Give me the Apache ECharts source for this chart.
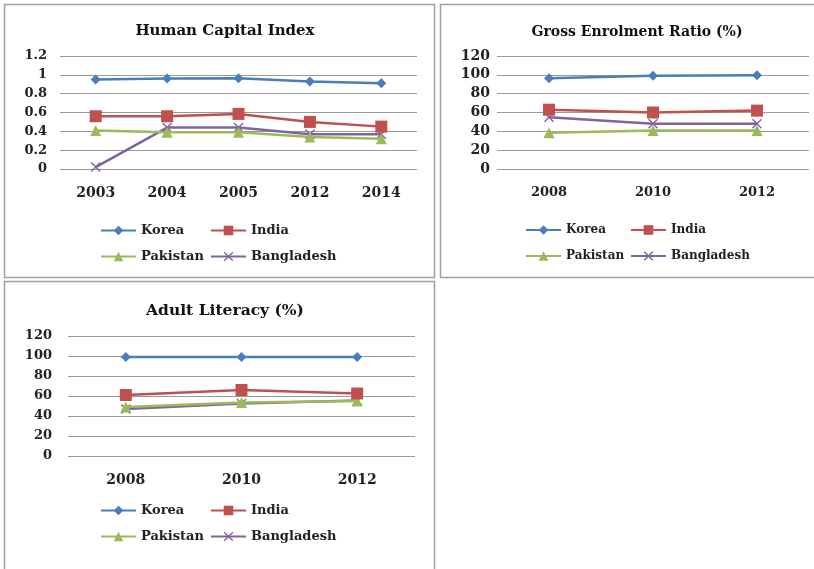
<!DOCTYPE html>
<html>
<head>
<meta charset="utf-8">
<script src="https://cdn.jsdelivr.net/npm/echarts@6/dist/echarts.min.js"></script>
<style>
  html, body { margin: 0; padding: 0; background: #fff; }
  #chart { width: 814px; height: 569px; }
</style>
</head>
<body>
<div id="chart"></div>
<script>
// data
const countries = ['Korea', 'India', 'Pakistan', 'Bangladesh'];

const hciYears = ['2003', '2004', '2005', '2012', '2014'];
const hciKorea = [0.95, 0.96, 0.965, 0.93, 0.91];
const hciIndia = [0.56, 0.56, 0.585, 0.50, 0.45];
const hciPakistan = [0.41, 0.39, 0.39, 0.34, 0.32];
const hciBangladesh = [0.02, 0.44, 0.44, 0.37, 0.37];

const gerYears = ['2008', '2010', '2012'];
const gerKorea = [96.5, 99, 99.5];
const gerIndia = [63, 60, 62];
const gerPakistan = [38.5, 41, 41];
const gerBangladesh = [55, 48, 48];

const litYears = ['2008', '2010', '2012'];
const litKorea = [99, 99, 99];
const litIndia = [61, 66, 62.5];
const litPakistan = [49, 53.5, 55];
const litBangladesh = [47, 52.5, 55.5];

const hciTicks = [0, 0.2, 0.4, 0.6, 0.8, 1, 1.2];
const pctTicks = [0, 20, 40, 60, 80, 100, 120];

var colors = ['#4A7EBB', '#C0504D', '#9BBB59', '#8064A2'];
var symbols = [
    'diamond',
    'rect',
    'triangle',
    'path://M0,1 L1,0 L5,4 L9,0 L10,1 L6,5 L10,9 L9,10 L5,6 L1,10 L0,9 L4,5 Z'
];
var symbolSizes = [10, 12, 11, 10];
var font = 'DejaVu Serif';

var chartDom = document.getElementById('chart');
var myChart = echarts.init(chartDom);

function makeSeries(gridIdx, lists) {
    return lists.map(function(vals, i) {
        return {
            name: countries[i],
            type: 'line',
            xAxisIndex: gridIdx,
            yAxisIndex: gridIdx,
            data: vals,
            symbol: symbols[i],
            symbolSize: symbolSizes[i],
            showAllSymbol: true,
            color: colors[i],
            lineStyle: { width: 2.5, color: colors[i] },
            itemStyle: { color: colors[i] },
            z: 10 - i
        };
    });
}

function makeLegends(x1, x2, y1, y2, size) {
    var pos = [[x1, y1], [x2, y1], [x1, y2], [x2, y2]];
    return countries.map(function(c, i) {
        return {
            data: [c],
            left: pos[i][0],
            top: pos[i][1],
            padding: 0,
            itemWidth: 35,
            itemHeight: 12,
            itemGap: 3,
            textStyle: { fontFamily: font, fontSize: size, fontWeight: 'bold', color: '#222' }
        };
    });
}

function xAxisFor(gridIdx, cats, size) {
    return {
        type: 'category',
        gridIndex: gridIdx,
        data: cats,
        boundaryGap: true,
        axisLine: { show: false },
        axisTick: { show: false },
        axisLabel: { margin: 17, fontFamily: font, fontSize: size, fontWeight: 'bold', color: '#222' }
    };
}

function yAxisFor(gridIdx, ticks, margin, size) {
    return {
        type: 'value',
        gridIndex: gridIdx,
        min: ticks[0],
        max: ticks[ticks.length - 1],
        interval: ticks[1] - ticks[0],
        axisLine: { show: false },
        axisTick: { show: false },
        splitLine: { lineStyle: { color: '#9a9a9a', width: 1 } },
        axisLabel: { margin: margin, fontFamily: font, fontSize: size, fontWeight: 'bold', color: '#222' }
    };
}

function titleStyle(size) {
    return { fontFamily: font, fontSize: size, fontWeight: 'bold', color: '#111' };
}

var option = {
    backgroundColor: '#fff',
    animation: false,
    title: [
        { text: 'Human Capital Index', left: 220, top: 19, textAlign: 'center', textStyle: titleStyle(15) },
        { text: 'Gross Enrolment Ratio (%)', left: 632, top: 20, textAlign: 'center', textStyle: titleStyle(14) },
        { text: 'Adult Literacy (%)', left: 220, top: 298, textAlign: 'center', textStyle: titleStyle(15.5) }
    ],
    graphic: [
        { type: 'rect', shape: { x: 4.5, y: 4.5, width: 430, height: 273 }, style: { fill: 'none', stroke: '#a0a0a0', lineWidth: 1.5 }, silent: true },
        { type: 'rect', shape: { x: 440.5, y: 4.5, width: 390, height: 273 }, style: { fill: 'none', stroke: '#a0a0a0', lineWidth: 1.5 }, silent: true },
        { type: 'rect', shape: { x: 4.5, y: 281.5, width: 430, height: 300 }, style: { fill: 'none', stroke: '#a0a0a0', lineWidth: 1.5 }, silent: true }
    ],
    legend: []
        .concat(makeLegends(100, 210, 224, 250, 13))
        .concat(makeLegends(525, 630, 224, 250, 12))
        .concat(makeLegends(100, 210, 504, 530, 13)),
    grid: [
        { left: 60, width: 357, top: 56, height: 113 },
        { left: 497, width: 312, top: 56, height: 113 },
        { left: 68, width: 347, top: 336, height: 120 }
    ],
    xAxis: [
        xAxisFor(0, hciYears, 14),
        xAxisFor(1, gerYears, 13),
        xAxisFor(2, litYears, 14)
    ],
    yAxis: [
        yAxisFor(0, hciTicks, 13, 13),
        yAxisFor(1, pctTicks, 7, 14),
        yAxisFor(2, pctTicks, 16, 13)
    ],
    series: []
        .concat(makeSeries(0, [hciKorea, hciIndia, hciPakistan, hciBangladesh]))
        .concat(makeSeries(1, [gerKorea, gerIndia, gerPakistan, gerBangladesh]))
        .concat(makeSeries(2, [litKorea, litIndia, litPakistan, litBangladesh]))
};

myChart.setOption(option);
</script>
</body>
</html>
